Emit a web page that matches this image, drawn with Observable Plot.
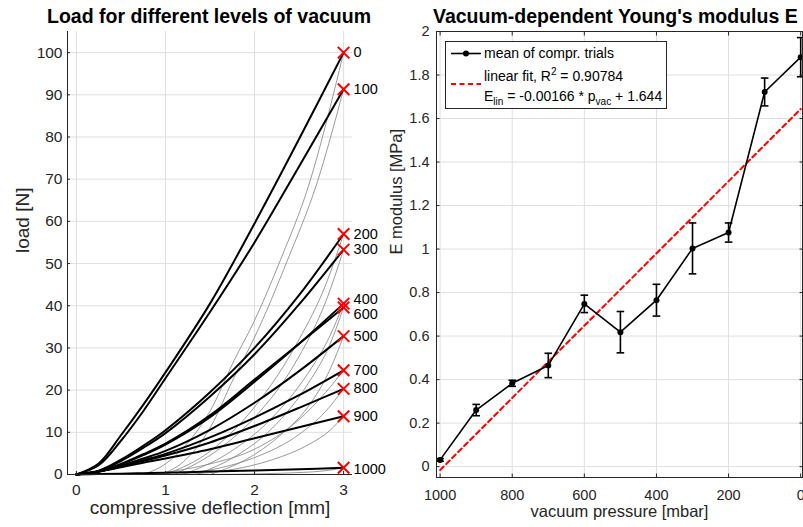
<!DOCTYPE html>
<html><head><meta charset="utf-8">
<script src="https://cdn.jsdelivr.net/npm/d3@7"></script>
<script src="https://cdn.jsdelivr.net/npm/@observablehq/plot@0.6"></script>
<style>
body{margin:0;background:#fff;}
#wrap{position:relative;width:803px;height:527px;overflow:hidden;font-family:"Liberation Sans",Arial,Helvetica,sans-serif;background:#fff;}
.title{position:absolute;top:5px;font-weight:bold;font-size:19.5px;line-height:22px;white-space:nowrap;color:#000;}
#left,#right{position:absolute;top:0;}
#left{left:0;} #right{left:380px;}
#legend{position:absolute;left:445px;top:41px;width:220px;height:66px;border:1px solid #262626;background:#fff;font-size:14px;line-height:16px;color:#000;}
#legend .t{position:absolute;left:38px;white-space:nowrap;}
#legend sup{font-size:10px;position:relative;top:-6px;vertical-align:baseline;line-height:0;}
#legend sub{font-size:10px;position:relative;top:4px;vertical-align:baseline;line-height:0;}
</style></head><body>
<div id="wrap">
  <div id="left"></div>
  <div id="right"></div>
  <div class="title" style="left:9px;width:400px;text-align:center">Load for different levels of vacuum</div>
  <div class="title" style="left:433px">Vacuum-dependent Young's modulus E</div>
  <div id="legend"></div>
</div>
<script>
// ---------- LEFT CHART DATA ----------
const vacuumLevels = [0, 100, 200, 300, 400, 500, 600, 700, 800, 900, 1000];
const deflectionGrid = [0, 0.25, 0.5, 0.75, 1, 1.5, 2, 2.5, 3];
// mean load curves [N] at deflectionGrid [mm]
const load0    = [0, 2.6, 9.3, 16.5, 24.2, 40.5, 59.5, 79.5, 100];
const load100  = [0, 2.2, 8.0, 15.0, 22.8, 38.5, 55.0, 73.0, 91.3];
const load200  = [0, 0.9, 3.5, 6.8, 10.5, 19.5, 30.0, 42.5, 57.0];
const load300  = [0, 0.8, 3.2, 6.3, 9.8, 18.5, 28.5, 40.3, 53.3];
const load400  = [0, 0.7, 2.4, 4.6, 7.1, 13.6, 22.0, 31.0, 40.5];
const load500  = [0, 0.7, 2.1, 3.8, 5.6, 10.6, 17.0, 24.5, 32.8];
const load600  = [0, 0.7, 2.5, 4.8, 7.3, 14.0, 22.5, 31.0, 39.6];
const load700  = [0, 0.7, 1.9, 3.4, 4.9, 8.8, 13.5, 18.8, 24.7];
const load800  = [0, 0.7, 1.9, 3.2, 4.5, 7.6, 11.5, 15.8, 20.3];
const load900  = [0, 0.7, 1.7, 2.8, 3.8, 6.0, 8.6, 11.2, 13.8];
const load1000 = [0, 0.1, 0.2, 0.3, 0.4, 0.7, 0.95, 1.25, 1.6];
// raw (unshifted) trial curves [deflection, load]
const raw0    = [[0.75,0],[1.0,2.5],[1.25,7.5],[1.5,15],[1.77,27],[2.0,36.5],[2.29,50.8],[2.6,68],[3,100]];
const raw100  = [[0.95,0],[1.2,3],[1.5,11],[1.77,23],[2.0,32.5],[2.37,50.8],[2.7,69],[3,91.3]];
const raw200  = [[1.0,0],[1.5,5.5],[2,16],[2.5,32],[2.8,45],[3,57]];
const raw300  = [[1.1,0],[1.6,6],[2,13.5],[2.5,28],[2.8,41],[3,53.3]];
const raw400  = [[1.2,0],[1.7,5],[2.2,13.5],[2.6,24],[2.85,33],[3,40.5]];
const raw500  = [[1.5,0],[1.9,3.5],[2.3,9.5],[2.6,16],[2.85,25],[3,32.8]];
const raw600  = [[1.35,0],[1.8,4.5],[2.2,11],[2.6,21.5],[2.85,31],[3,39.6]];
const raw700  = [[0.8,0],[1.5,2.5],[2,6],[2.5,13],[2.8,19.5],[3,24.7]];
const raw800  = [[1.1,0],[1.6,1.5],[2,4],[2.5,9.5],[2.8,15],[3,20.3]];
const raw900  = [[1.2,0],[1.7,1],[2.2,3.5],[2.6,7],[2.85,10.5],[3,13.8]];
const raw1000 = [[1.6,0],[2.3,0.3],[2.8,0.9],[3,1.6]];
const xTicksL = [0, 1, 2, 3];
const yTicksL = [0, 10, 20, 30, 40, 50, 60, 70, 80, 90, 100];
const xDomainL = [-0.1, 3.1];
const yDomainL = [0, 105];

// ---------- RIGHT CHART DATA ----------
const pressure = [1000, 900, 800, 700, 600, 500, 400, 300, 200, 100, 0];
const eMean = [0.031, 0.260, 0.383, 0.465, 0.748, 0.618, 0.765, 1.003, 1.076, 1.722, 1.882];
const eErr  = [0.006, 0.026, 0.014, 0.056, 0.040, 0.095, 0.073, 0.117, 0.044, 0.064, 0.090];
const fitP = [1000, 0];
const fitE = [-0.016, 1.644];
const fitR2 = "0.90784", fitSlope = "-0.00166", fitIntercept = "1.644";
const pTicks = [0, 200, 400, 600, 800, 1000];
const eTicks = [0, 0.2, 0.4, 0.6, 0.8, 1, 1.2, 1.4, 1.6, 1.8, 2];
const xDomainR = [1010, -5];
const yDomainR = [-0.05, 2];

// ---------- BUILD ----------
const FONT = '"Liberation Sans", Arial, Helvetica, sans-serif';
const GRID = "#dfdfdf", AX = "#262626";
const meanLoads = [load0, load100, load200, load300, load400, load500, load600, load700, load800, load900, load1000];
const rawCurves = [raw0, raw100, raw200, raw300, raw400, raw500, raw600, raw700, raw800, raw900, raw1000];
const rows = [];
vacuumLevels.forEach((lv, i) => deflectionGrid.forEach((x, j) => rows.push({level: lv, x, load: meanLoads[i][j]})));
const rawRows = [];
vacuumLevels.forEach((lv, i) => rawCurves[i].forEach(([x, l]) => rawRows.push({level: lv, x, load: l})));
const ends = rows.filter(d => d.x === deflectionGrid[deflectionGrid.length - 1]);
const labelNudge = {400: -4, 600: 7, 1000: 2};
const labelMarks = [
  Plot.text(ends.filter(d => !(d.level in labelNudge)), {x: "x", y: "load", text: d => String(d.level), textAnchor: "start", dx: 10, fontSize: 14.5, fill: "#000"}),
  ...Object.entries(labelNudge).map(([lv, dy]) =>
    Plot.text(ends.filter(d => d.level === +lv), {x: "x", y: "load", text: d => String(d.level), textAnchor: "start", dx: 10, dy, fontSize: 14.5, fill: "#000"}))
];

const left = Plot.plot({
  width: 400, height: 527,
  marginLeft: 67, marginRight: 48, marginTop: 31, marginBottom: 53,
  style: {fontFamily: FONT, background: "transparent", color: AX, overflow: "visible"},
  x: {domain: xDomainL},
  y: {domain: yDomainL},
  marks: [
    Plot.gridX(xTicksL, {stroke: GRID, strokeOpacity: 1}),
    Plot.gridY(yTicksL, {stroke: GRID, strokeOpacity: 1}),
    Plot.line(rawRows, {x: "x", y: "load", z: "level", stroke: "#808080", strokeWidth: 0.8, curve: "monotone-x"}),
    Plot.line(rows, {x: "x", y: "load", z: "level", stroke: "#000", strokeWidth: 2, curve: "catmull-rom"}),
    Plot.ruleX([xDomainL[0]], {stroke: AX}),
    Plot.ruleY([yDomainL[0]], {stroke: AX}),
    Plot.axisX(xTicksL, {tickSize: -3, tickPadding: 19, lineAnchor: "middle", fontSize: 15.5, label: null}),
    Plot.axisY(yTicksL, {tickSize: -3, tickPadding: 8, fontSize: 15.5, label: null}),
    Plot.dot(ends, {x: "x", y: "load", symbol: "times", r: 5.3, stroke: "red", strokeWidth: 2}),
    ...labelMarks,
    Plot.text(["compressive deflection [mm]"], {frameAnchor: "bottom", dy: 39.5, fontSize: 19, fill: AX}),
    Plot.text(["load [N]"], {frameAnchor: "left", rotate: -90, dx: -45, fontSize: 19, fill: AX})
  ]
});
document.getElementById("left").appendChild(left);

const eRows = pressure.map((p, i) => ({p, E: eMean[i], err: eErr[i]}));
const fitRows = fitP.map((p, i) => ({p, E: fitE[i]}));
const capSymbol = {draw(ctx) { ctx.moveTo(-3.8, 0); ctx.lineTo(3.8, 0); }};

const right = Plot.plot({
  width: 423, height: 527,
  marginLeft: 56, marginRight: 1, marginTop: 31, marginBottom: 50,
  style: {fontFamily: FONT, background: "transparent", color: AX, overflow: "visible"},
  x: {domain: xDomainR},
  y: {domain: yDomainR},
  marks: [
    Plot.gridX(pTicks, {stroke: GRID, strokeOpacity: 1}),
    Plot.gridY(eTicks, {stroke: GRID, strokeOpacity: 1}),
    Plot.line(fitRows, {x: "p", y: "E", stroke: "red", strokeWidth: 2, strokeDasharray: "5,3.5"}),
    Plot.ruleX(eRows, {x: "p", y1: d => d.E - d.err, y2: d => d.E + d.err, stroke: "#000", strokeWidth: 1.6}),
    Plot.dot(eRows, {x: "p", y: d => d.E - d.err, symbol: capSymbol, fill: "none", stroke: "#000", strokeWidth: 1.6}),
    Plot.dot(eRows, {x: "p", y: d => d.E + d.err, symbol: capSymbol, fill: "none", stroke: "#000", strokeWidth: 1.6}),
    Plot.line(eRows, {x: "p", y: "E", stroke: "#000", strokeWidth: 1.6}),
    Plot.dot(eRows, {x: "p", y: "E", r: 3, fill: "#000"}),
    Plot.frame({stroke: AX}),
    Plot.axisX(pTicks, {tickSize: -3.5, tickPadding: 21, lineAnchor: "middle", fontSize: 14.5, tickFormat: d => String(d), label: null}),
    Plot.axisX(pTicks, {anchor: "top", tickSize: -3.5, tickFormat: () => "", label: null}),
    Plot.axisY(eTicks, {tickSize: -3.5, tickPadding: 10.5, fontSize: 14.5, tickFormat: d => String(d), label: null}),
    Plot.axisY(eTicks, {anchor: "right", tickSize: -3.5, tickFormat: () => "", label: null}),
    Plot.text(["vacuum pressure [mbar]"], {frameAnchor: "bottom", dy: 39, fontSize: 16.5, fill: AX}),
    Plot.text(["E modulus [MPa]"], {frameAnchor: "left", rotate: -90, dx: -40, fontSize: 16.5, fill: AX})
  ]
});
document.getElementById("right").appendChild(right);

// legend
document.getElementById("legend").innerHTML = `
  <svg style="position:absolute;left:0;top:0" width="40" height="66">
    <line x1="5" y1="11.5" x2="35" y2="11.5" stroke="#000" stroke-width="1.6"/>
    <circle cx="20" cy="11.5" r="3" fill="#000"/>
    <line x1="5" y1="42" x2="35" y2="42" stroke="red" stroke-width="2" stroke-dasharray="5,3.5"/>
  </svg>
  <div class="t" style="top:3px">mean of compr. trials</div>
  <div class="t" style="top:26px">linear fit, R<sup>2</sup> = ${fitR2}</div>
  <div class="t" style="top:46px">E<sub>lin</sub> = ${fitSlope} * p<sub>vac</sub> + ${fitIntercept}</div>`;
</script>
</body></html>
